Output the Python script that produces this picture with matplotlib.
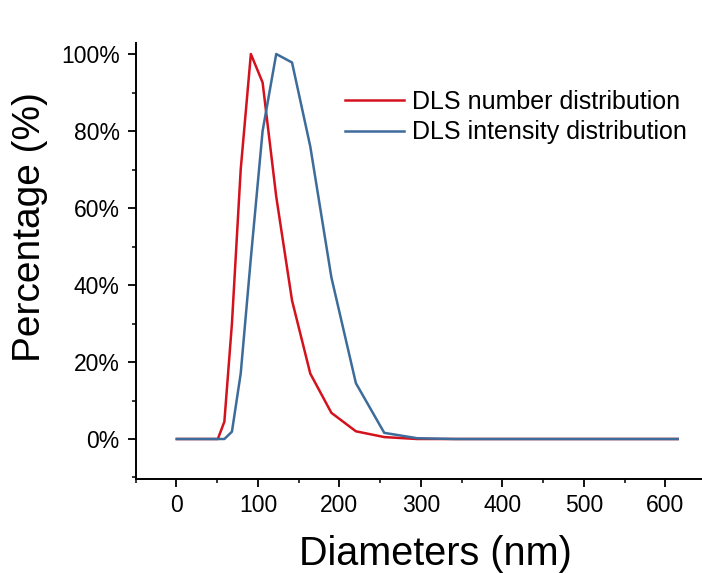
import matplotlib
matplotlib.use("Agg")
import matplotlib.pyplot as plt
from matplotlib.ticker import MultipleLocator, FuncFormatter

plt.rcParams['font.family'] = ['Liberation Sans', 'DejaVu Sans']

# Size bins (nm)
diameters = [0.4, 0.4632, 0.5365, 0.6213, 0.7195, 0.8332, 0.9649, 1.117, 1.294,
             1.499, 1.736, 2.010, 2.328, 2.696, 3.122, 3.615, 4.187, 4.849, 5.615,
             6.503, 7.531, 8.721, 10.10, 11.70, 13.54, 15.69, 18.17, 21.04, 24.36,
             28.21, 32.67, 37.84, 43.82, 50.75, 58.77, 68.06, 78.82, 91.28, 105.7,
             122.4, 141.8, 164.2, 190.1, 220.2, 255.0, 295.3, 342.0, 396.1, 458.7,
             531.2, 615.1]

n_zero_head = 33  # bins below 50 nm are all zero

number_tail = [0, 4.5, 30, 70, 100, 92.6, 63, 36, 17, 6.8, 2.0, 0.5, 0,
               0, 0, 0, 0, 0]
intensity_tail = [0, 0, 1.9, 17, 47, 80, 100, 97.8, 76, 42, 14.5, 1.6, 0.2,
                  0, 0, 0, 0, 0]

number_dist = [0] * n_zero_head + number_tail
intensity_dist = [0] * n_zero_head + intensity_tail

labels = ["DLS number distribution", "DLS intensity distribution"]
colors = ["#d4121d", "#3d6b9a"]

fig = plt.figure(figsize=(7.02, 5.73), dpi=100)
ax = fig.add_axes([135.75 / 702, (573 - 479) / 573, (702 - 135.75) / 702, (479 - 43) / 573])

ax.plot(diameters, number_dist, color=colors[0], lw=1.8, label=labels[0])
ax.plot(diameters, intensity_dist, color=colors[1], lw=1.8, label=labels[1])

ax.set_xlim(-50, 645)
ax.set_ylim(-10.39, 102.86)

ax.xaxis.set_major_locator(MultipleLocator(100))
ax.xaxis.set_minor_locator(MultipleLocator(50))
ax.yaxis.set_major_locator(MultipleLocator(20))
ax.yaxis.set_minor_locator(MultipleLocator(10))
ax.yaxis.set_major_formatter(FuncFormatter(lambda v, p: f"{v:.0f}%"))

for s in ['top', 'right']:
    ax.spines[s].set_visible(False)
for s in ['left', 'bottom']:
    ax.spines[s].set_linewidth(1.4)

ax.tick_params(which='major', direction='out', length=5.5, width=1.3, labelsize=16.5, pad=5)
ax.tick_params(which='minor', direction='out', length=3, width=1.1)
ax.tick_params(axis='y', which='major', pad=6)

ax.set_xlabel("Diameters (nm)", fontsize=28.5)
ax.set_ylabel("Percentage (%)", fontsize=28)
ax.xaxis.set_label_coords(435 / 702, 1 - 554 / 573, transform=fig.transFigure)
ax.yaxis.set_label_coords(30 / 702, 1 - 227.5 / 573, transform=fig.transFigure)
ax.xaxis.label.set_va('center')
ax.yaxis.label.set_va('center')

ax.legend(loc='upper left', bbox_to_anchor=(345 / 702, 1 - 90 / 573),
          bbox_transform=fig.transFigure, frameon=False, fontsize=18,
          handlelength=2.35, handletextpad=0.35, labelspacing=0.25,
          borderpad=0, borderaxespad=0)

fig.savefig("out.png", dpi=100)
